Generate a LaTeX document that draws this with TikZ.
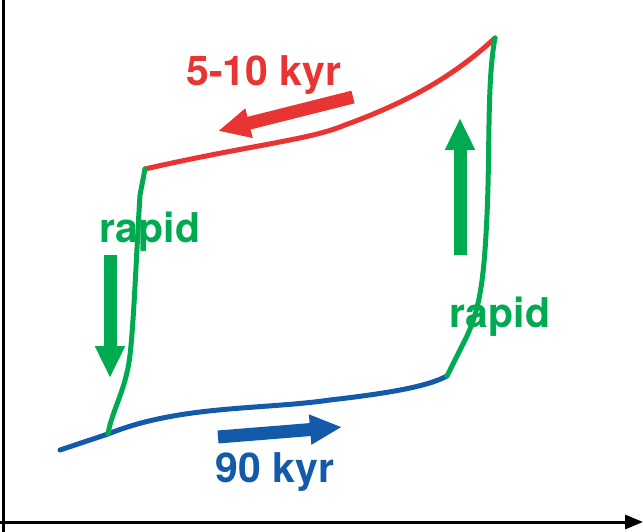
\documentclass[tikz,border=0pt]{standalone}
\usepackage{fontspec}
\setmainfont{TeX Gyre Heros}
\usetikzlibrary{arrows.meta}
\definecolor{warm}{RGB}{232,52,50}
\definecolor{cold}{RGB}{0,170,80}
\definecolor{deep}{RGB}{20,90,170}
\tikzset{
    branch/.style={line width=5pt, line cap=round},
    flow/.style={line width=13pt, -{Triangle[width=28pt,length=32pt]}},
    tag/.style={font=\bfseries\fontsize{41}{48}\selectfont}
}
\begin{document}
\begin{tikzpicture}[x=1pt, y=-1pt]
    \useasboundingbox (0,0) rectangle (643,532);
    % axes
    \draw[line width=3pt] (3,532)--(3,0);
    \draw[line width=3pt, -{Triangle[width=14pt,length=18pt]}] (0,522)--(643,522);
    % corners
    \coordinate (tl) at (145,169);
    \coordinate (tr) at (495,38);
    \coordinate (bl) at (108,434);
    \coordinate (br) at (447,376);
    % branches
    \draw[branch, warm] (tl) .. controls (250,145) and (310,140) .. (345,125)
        .. controls (400,105) and (450,80) .. (tr);
    \draw[branch, deep] (60,450) -- (bl) .. controls (180,405) and (260,410) .. (330,400)
        .. controls (400,392) and (430,385) .. (br);
    \draw[branch, cold] (tl) -- (140,195) .. controls (136,260) and (134,320) .. (130,355)
        .. controls (126,390) and (112,410) .. (bl);
    \draw[branch, cold] (tr) .. controls (487,80) and (490,150) .. (487,215)
        .. controls (484,280) and (480,310) .. (465,340) -- (br);
    % direction arrows
    \draw[flow, warm] (353,97)--(218,131);
    \draw[flow, deep] (218,437)--(342,427);
    \draw[flow, cold] (110,255)--(110,378);
    \draw[flow, cold] (460,255)--(460,118);
    % labels
    \node[tag, warm] (slow) at (264,75) {5-10 kyr};
    \node[tag, deep] (long) at (275,472) {90 kyr};
    \node[tag, cold] (dropl) at (150,232) {rapid};
    \node[tag, cold] (riser) at (500,317) {rapid};
\end{tikzpicture}
\end{document}
